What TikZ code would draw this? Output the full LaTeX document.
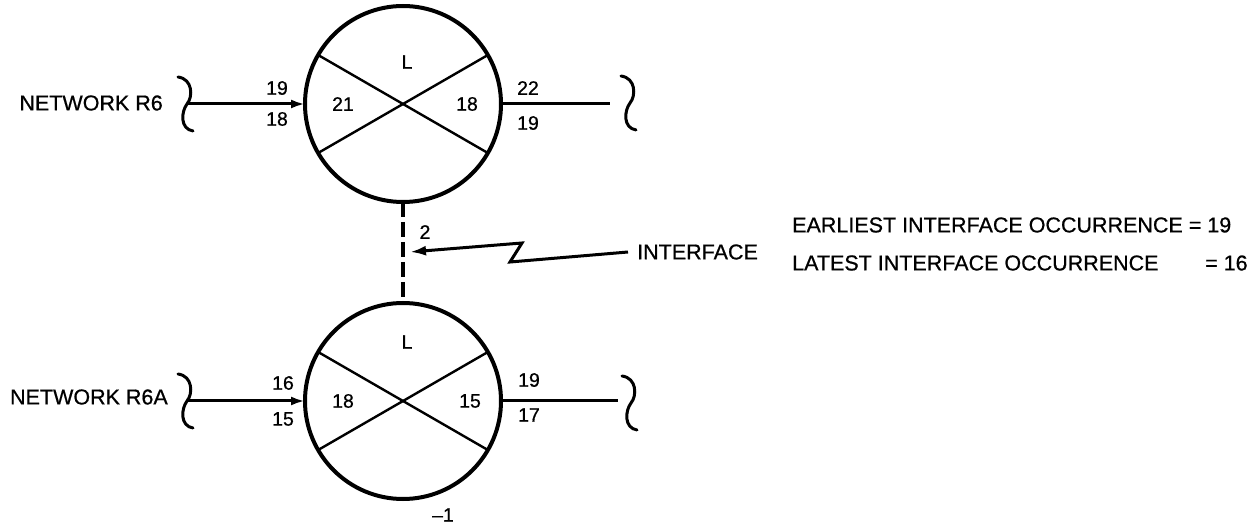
\documentclass[tikz,border=0pt]{standalone}
\usepackage{fontspec}
\setmainfont{Liberation Sans}[FakeBold=0.7]
\usetikzlibrary{arrows.meta}

\tikzset{
  event/.style={circle, draw, line width=4pt, minimum size=196pt, inner sep=0pt, outer sep=0pt},
  cross/.style={line width=2.4pt},
  flow/.style={line width=3pt},
  inflow/.style={flow, -{Latex[length=14pt,width=9pt]}},
  link/.style={line width=4pt, dash pattern=on 15pt off 5pt},
  pointer/.style={line width=3pt, -{Latex[length=16pt,width=10pt]}, line join=miter},
  lbl/.style={inner sep=0pt, font=\fontsize{21.5}{24}\selectfont},
  num/.style={inner sep=0pt, font=\fontsize{19.5}{22}\selectfont},
  pics/wavy/.style={code={
    \draw[line width=3pt, line cap=round]
      (-9,-27) .. controls (6,-25) and (6,-7) .. (0,0)
      .. controls (-6,8) and (-7,25) .. (6,27);
  }}
}

\begin{document}
\begin{tikzpicture}[x=1pt, y=-1pt]
  \useasboundingbox (0,0) rectangle (1251,529);

  % the two event circles
  \node[event] (top) at (403,104) {};
  \node[event] (bot) at (403,401) {};

  % the crossed interiors
  \foreach \c in {top, bot} {
    \draw[cross] (\c.150) -- (\c.-30);
    \draw[cross] (\c.30) -- (\c.210);
  }

  % texts inside the top circle
  \node[num] (tL)  at (407,62)  {L};
  \node[num] (tE)  at (343,104) {21};
  \node[num] (tLa) at (467,104) {18};

  % texts inside the bottom circle
  \node[num] (bL)  at (407,342) {L};
  \node[num] (bE)  at (343,401) {18};
  \node[num] (bLa) at (470,401) {15};

  % incoming activity of network R6
  \node[lbl, anchor=east] (netA) at (163,103) {NETWORK R6};
  \pic at (187,104) {wavy};
  \coordinate (inA) at (187,104);
  \draw[inflow] (inA) -- (top.west);
  \node[num] (inA1) at (277,88)  {19};
  \node[num] (inA2) at (277,119) {18};

  % outgoing activity of network R6
  \coordinate (outA) at (610,104);
  \draw[flow] (top.east) -- (outA);
  \pic at (630,103) {wavy};
  \node[num] (outA1) at (528,88)  {22};
  \node[num] (outA2) at (528,123) {19};

  % incoming activity of network R6A
  \node[lbl, anchor=east] (netB) at (168,397) {NETWORK R6A};
  \pic at (187,401) {wavy};
  \coordinate (inB) at (187,401);
  \draw[inflow] (inB) -- (bot.west);
  \node[num] (inB1) at (283,383) {16};
  \node[num] (inB2) at (283,419) {15};

  % outgoing activity of network R6A
  \coordinate (outB) at (618,401);
  \draw[flow] (bot.east) -- (outB);
  \pic at (631,403) {wavy};
  \node[num] (outB1) at (529,380) {19};
  \node[num] (outB2) at (529,415) {17};

  % slack below the bottom event
  \node[num] (slack) at (443,515) {\textendash 1};

  % interface between the two networks
  \draw[link] (top.south) -- (bot.north);
  \node[num] (lag) at (425,232) {2};

  \node[lbl, anchor=west] (iface) at (637,252) {INTERFACE};
  \coordinate (ifTip) at (410,252);
  \draw[pointer] (iface.west) ++(-9,0) -- (510,262) -- (522,243) -- (ifTip);

  % summary
  \node[lbl, anchor=west] (early) at (792,225) {EARLIEST INTERFACE OCCURRENCE = 19};
  \node[lbl, anchor=west] (late)  at (792,263) {LATEST INTERFACE OCCURRENCE};
  \node[lbl, anchor=west] (lateV) at (1205,263) {= 16};
\end{tikzpicture}
\end{document}
